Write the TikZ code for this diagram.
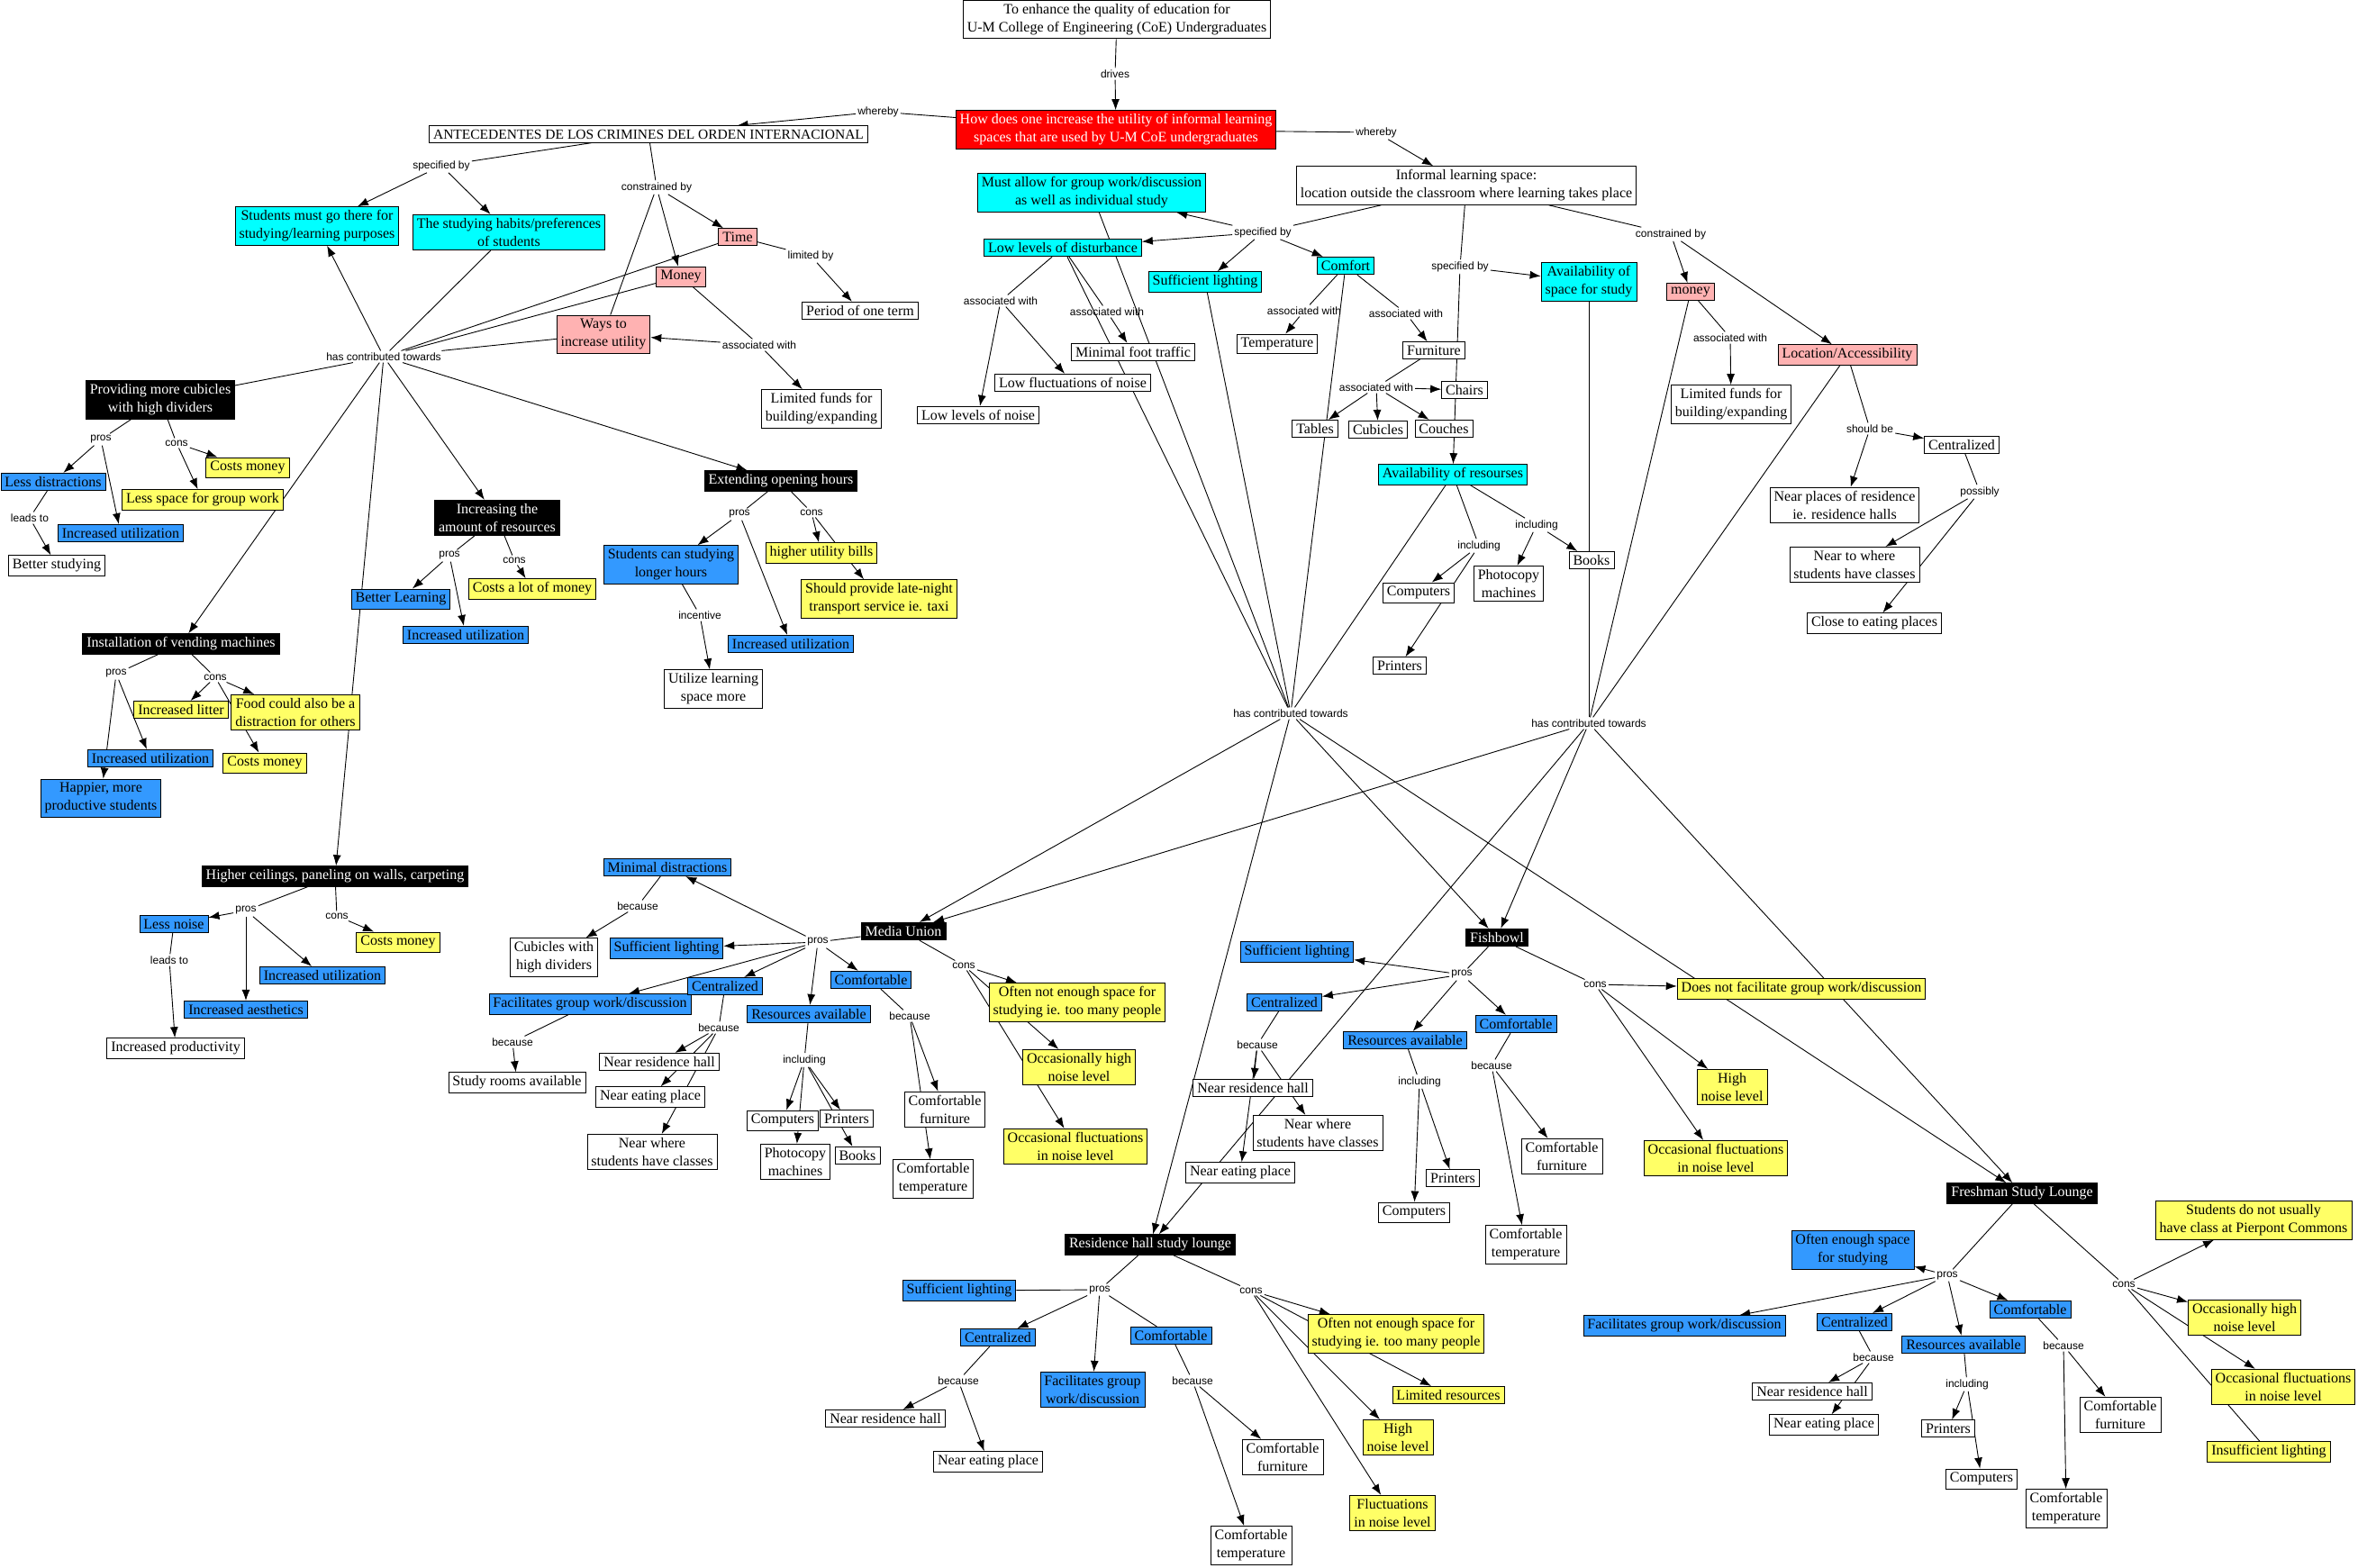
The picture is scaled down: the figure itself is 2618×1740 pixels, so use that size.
\documentclass[tikz,border=0pt]{standalone}
\usepackage{fontspec}
\setmainfont{Liberation Serif}
\newfontfamily\labfont{Liberation Sans}
\usetikzlibrary{arrows.meta}
\pgfdeclarelayer{bg}
\pgfsetlayers{bg,main}
\definecolor{cyanC}{RGB}{0,255,255}
\definecolor{blueC}{RGB}{51,153,255}
\definecolor{yellowC}{RGB}{255,255,102}
\definecolor{pinkC}{RGB}{255,178,178}
\definecolor{redC}{RGB}{255,0,0}
\begin{document}
\begin{tikzpicture}[x=1pt,y=-1pt,
  cbox/.style={draw=black, line width=0.9pt, align=center, font=\fontsize{16}{20}\selectfont, inner xsep=4.5pt, inner ysep=4pt, fill=white},
  cyb/.style={cbox, fill=cyanC},
  blb/.style={cbox, fill=blueC},
  yeb/.style={cbox, fill=yellowC},
  pkb/.style={cbox, fill=pinkC},
  bkb/.style={cbox, fill=black, text=white},
  rdb/.style={cbox, fill=redC, text=white},
  lbl/.style={font=\labfont\fontsize{12}{14}\selectfont, inner sep=2pt},
  lnk/.style={line width=0.9pt},
  arw/.style={line width=0.9pt, -{Latex[length=12pt,width=9pt]}}]
\useasboundingbox (0,0) rectangle (2618,1740);

% ---------- top ----------
\node[cbox] (goal) at (1240,21.5) {To enhance the quality of education for\\U-M College of Engineering (CoE) Undergraduates};
\node[lbl] (drives) at (1238,82) {drives};
\node[rdb] (q) at (1239,144) {How does one increase the utility of informal learning\\spaces that are used by U-M CoE undergraduates};
\node[lbl] (wbL) at (975,124) {whereby};
\node[lbl] (wbR) at (1528,147) {whereby};
\node[cbox, font=\fontsize{15.5}{19}\selectfont] (ante) at (720,149) {ANTECEDENTES DE LOS CRIMINES DEL ORDEN INTERNACIONAL};

% ---------- left ----------
\node[lbl] (spL) at (490,184) {specified by};
\node[cyb] (stMust) at (352,251) {Students must go there for\\studying/learning purposes};
\node[cyb] (stHab) at (565,258) {The studying habits/preferences\\of students};
\node[lbl] (conL) at (729,208) {constrained by};
\node[pkb] (time) at (819,263) {Time};
\node[pkb] (money) at (756,307) {Money};
\node[lbl] (limby) at (900,284) {limited by};
\node[cbox] (period) at (955,345) {Period of one term};
\node[lbl] (assocM) at (843,383) {associated with};
\node[pkb] (ways) at (670,371) {Ways to\\increase utility};
\node[cbox] (fundsL) at (912,454) {Limited funds for\\building/expanding};
\node[lbl] (hubL) at (426,396) {has contributed towards};

\node[bkb] (cub) at (178,444) {Providing more cubicles\\with high dividers};
\node[lbl] (cubPros) at (112,488) {pros};
\node[lbl] (cubCons) at (196,492) {cons};
\node[yeb] (cubCost) at (275,519) {Costs money};
\node[yeb] (cubSpace) at (225,555) {Less space for group work};
\node[blb] (lessDis) at (59,535) {Less distractions};
\node[lbl] (leads1) at (33,575) {leads to};
\node[blb] (cubUtil) at (134,592) {Increased utilization};
\node[cbox] (betterSt) at (63,628) {Better studying};

\node[bkb] (res) at (552,575) {Increasing the\\amount of resources};
\node[lbl] (resPros) at (499,617) {pros};
\node[lbl] (resCons) at (571,622) {cons};
\node[blb] (betterL) at (445,665) {Better Learning};
\node[yeb] (resCost) at (591,654) {Costs a lot of money};
\node[blb] (resUtil) at (517,705) {Increased utilization};

\node[bkb] (ext) at (867,534) {Extending opening hours};
\node[lbl] (extPros) at (821,571) {pros};
\node[lbl] (extCons) at (901,569) {cons};
\node[blb] (longer) at (745,627) {Students can studying\\longer hours};
\node[yeb] (bills) at (912,614) {higher utility bills};
\node[yeb] (taxi) at (976,665) {Should provide late-night\\transport service ie. taxi};
\node[lbl] (incent) at (777,683) {incentive};
\node[blb] (extUtil) at (878,715) {Increased utilization};
\node[cbox] (utilize) at (792,765) {Utilize learning\\space more};

\node[bkb] (vend) at (201,715) {Installation of vending machines};
\node[lbl] (vPros) at (129,748) {pros};
\node[lbl] (vCons) at (239,752) {cons};
\node[yeb] (litter) at (201,788) {Increased litter};
\node[yeb] (food) at (328,791) {Food could also be a\\distraction for others};
\node[blb] (vUtil) at (167,842) {Increased utilization};
\node[yeb] (vCost) at (294,847) {Costs money};
\node[blb] (happy) at (112,886) {Happier, more\\productive students};

\node[bkb] (ceil) at (372,973) {Higher ceilings, paneling on walls, carpeting};
\node[lbl] (cPros) at (273,1011) {pros};
\node[lbl] (cCons) at (374,1017) {cons};
\node[blb] (lessNoise) at (193,1026) {Less noise};
\node[yeb] (cCost) at (442,1046) {Costs money};
\node[blb] (cUtil) at (358,1083) {Increased utilization};
\node[lbl] (leads2) at (188,1066) {leads to};
\node[blb] (aesth) at (273,1121) {Increased aesthetics};
\node[cbox] (prod) at (195,1164) {Increased productivity};

% ---------- right/top ----------
\node[cbox] (inf) at (1628,206) {Informal learning space:\\location outside the classroom where learning takes place};
\node[lbl] (spI) at (1402,258) {specified by};
\node[cyb] (must) at (1212,214) {Must allow for group work/discussion\\as well as individual study};
\node[cyb] (dist) at (1180,275) {Low levels of disturbance};
\node[cyb] (light) at (1338,313) {Sufficient lighting};
\node[cyb] (comfort) at (1494,295) {Comfort};
\node[lbl] (asD1) at (1111,334) {associated with};
\node[lbl] (asD2) at (1229,346) {associated with};
\node[cbox] (foot) at (1258,391) {Minimal foot traffic};
\node[cbox] (lowfl) at (1191,425) {Low fluctuations of noise};
\node[cbox] (lownoise) at (1086,461) {Low levels of noise};
\node[lbl] (asC1) at (1448,345) {associated with};
\node[cbox] (temp) at (1418,382) {Temperature};
\node[lbl] (asC2) at (1561,348) {associated with};
\node[cbox] (furn) at (1592,389) {Furniture};
\node[lbl] (asF) at (1528,430) {associated with};
\node[cbox] (chairs) at (1626,433) {Chairs};
\node[cbox] (tables) at (1460,476) {Tables};
\node[cbox] (cubicles) at (1530,477) {Cubicles};
\node[cbox] (couches) at (1603,476) {Couches};
\node[cyb] (avres) at (1613,527) {Availability of resourses};
\node[lbl] (spM) at (1621,296) {specified by};
\node[cyb] (avsp) at (1764,313) {Availability of\\space for study};
\node[lbl] (conR) at (1855,260) {constrained by};
\node[pkb] (money2) at (1877,324) {money};
\node[lbl] (asM2) at (1921,375) {associated with};
\node[cbox] (fundsR) at (1922,449) {Limited funds for\\building/expanding};
\node[pkb] (loc) at (2051,394) {Location/Accessibility};
\node[lbl] (should) at (2076,476) {should be};
\node[cbox] (centr) at (2178,494) {Centralized};
\node[cbox] (nearres) at (2048,561) {Near places of residence\\ie. residence halls};
\node[lbl] (possibly) at (2198,546) {possibly};
\node[cbox] (nearcls) at (2059,627) {Near to where\\students have classes};
\node[cbox] (closeeat) at (2081,692) {Close to eating places};
\node[lbl] (incl1) at (1642,606) {including};
\node[lbl] (incl2) at (1706,583) {including};
\node[cbox] (photo1) at (1675,648) {Photocopy\\machines};
\node[cbox] (books1) at (1767,622) {Books};
\node[cbox] (comp1) at (1575,658) {Computers};
\node[cbox] (print1) at (1554,739) {Printers};
\node[lbl] (hubM) at (1433,792) {has contributed towards};
\node[lbl] (hubR) at (1764,803) {has contributed towards};

% ---------- Media Union ----------
\node[bkb] (mu) at (1003,1034) {Media Union};
\node[lbl] (muPros) at (908,1046) {pros};
\node[lbl] (muCons) at (1070,1072) {cons};
\node[blb] (muMin) at (741,963) {Minimal distractions};
\node[lbl] (muBec1) at (708,1006) {because};
\node[cbox] (muCub) at (615,1063) {Cubicles with\\high dividers};
\node[blb] (muLight) at (740,1053) {Sufficient lighting};
\node[blb] (muFac) at (655,1115) {Facilitates group work/discussion};
\node[lbl] (muBec2) at (569,1157) {because};
\node[cbox] (muStudy) at (574,1202) {Study rooms available};
\node[blb] (muCen) at (805,1095) {Centralized};
\node[lbl] (muBec3) at (798,1141) {because};
\node[cbox] (muNRH) at (732,1179) {Near residence hall};
\node[cbox] (muNEP) at (722,1218) {Near eating place};
\node[cbox] (muNW) at (724,1279) {Near where\\students have classes};
\node[blb] (muRes) at (898,1126) {Resources available};
\node[lbl] (muIncl) at (893,1177) {including};
\node[cbox] (muComp) at (869,1244) {Computers};
\node[cbox] (muPrint) at (940,1242) {Printers};
\node[cbox] (muPhoto) at (883,1290) {Photocopy\\machines};
\node[cbox] (muBooks) at (952,1283) {Books};
\node[blb] (muCom) at (967,1088) {Comfortable};
\node[lbl] (muBec4) at (1010,1128) {because};
\node[cbox] (muCF) at (1049,1232) {Comfortable\\furniture};
\node[cbox] (muCT) at (1036,1309) {Comfortable\\temperature};
\node[yeb] (muOften) at (1196,1113) {Often not enough space for\\studying ie. too many people};
\node[yeb] (muHigh) at (1198,1185) {Occasionally high\\noise level};
\node[yeb] (muFl) at (1194,1273) {Occasional fluctuations\\in noise level};

% ---------- Fishbowl ----------
\node[bkb] (fb) at (1662,1041) {Fishbowl};
\node[lbl] (fbPros) at (1623,1082) {pros};
\node[lbl] (fbCons) at (1771,1093) {cons};
\node[blb] (fbLight) at (1440,1057) {Sufficient lighting};
\node[blb] (fbCen) at (1426,1113) {Centralized};
\node[blb] (fbRes) at (1560,1155) {Resources available};
\node[blb] (fbCom) at (1683,1137) {Comfortable};
\node[lbl] (fbBec1) at (1396,1160) {because};
\node[cbox] (fbNRH) at (1391,1208) {Near residence hall};
\node[cbox] (fbNW) at (1463,1258) {Near where\\students have classes};
\node[cbox] (fbNEP) at (1377,1302) {Near eating place};
\node[lbl] (fbIncl) at (1576,1201) {including};
\node[cbox] (fbPrint) at (1613,1308) {Printers};
\node[cbox] (fbComp) at (1570,1346) {Computers};
\node[lbl] (fbBec2) at (1656,1183) {because};
\node[cbox] (fbCF) at (1734,1284) {Comfortable\\furniture};
\node[cbox] (fbCT) at (1694,1382) {Comfortable\\temperature};
\node[yeb] (fbNoGroup) at (2000,1098) {Does not facilitate group work/discussion};
\node[yeb] (fbHigh) at (1923,1207) {High\\noise level};
\node[yeb] (fbFl) at (1905,1286) {Occasional fluctuations\\in noise level};

% ---------- Residence hall ----------
\node[bkb] (rh) at (1277,1382) {Residence hall study lounge};
\node[lbl] (rhPros) at (1221,1432) {pros};
\node[lbl] (rhCons) at (1389,1433) {cons};
\node[blb] (rhLight) at (1065,1433) {Sufficient lighting};
\node[blb] (rhCen) at (1108,1485) {Centralized};
\node[blb] (rhFac) at (1213,1543) {Facilitates group\\work/discussion};
\node[blb] (rhCom) at (1300,1483) {Comfortable};
\node[lbl] (rhBec1) at (1064,1533) {because};
\node[cbox] (rhNRH) at (983,1575) {Near residence hall};
\node[cbox] (rhNEP) at (1097,1623) {Near eating place};
\node[lbl] (rhBec2) at (1324,1533) {because};
\node[cbox] (rhCF) at (1424,1618) {Comfortable\\furniture};
\node[cbox] (rhCT) at (1389,1716) {Comfortable\\temperature};
\node[yeb] (rhOften) at (1550,1481) {Often not enough space for\\studying ie. too many people};
\node[yeb] (rhLim) at (1608,1549) {Limited resources};
\node[yeb] (rhHigh) at (1552,1596) {High\\noise level};
\node[yeb] (rhFl) at (1546,1680) {Fluctuations\\in noise level};

% ---------- Freshman Study Lounge ----------
\node[bkb] (fsl) at (2245,1325) {Freshman Study Lounge};
\node[lbl] (fslPros) at (2162,1416) {pros};
\node[lbl] (fslCons) at (2358,1426) {cons};
\node[blb] (fslOften) at (2057,1388) {Often enough space\\for studying};
\node[blb] (fslFac) at (1870,1472) {Facilitates group work/discussion};
\node[blb] (fslCen) at (2059,1468) {Centralized};
\node[blb] (fslRes) at (2180,1493) {Resources available};
\node[blb] (fslCom) at (2254,1454) {Comfortable};
\node[lbl] (fslBec1) at (2080,1507) {because};
\node[cbox] (fslNRH) at (2012,1545) {Near residence hall};
\node[cbox] (fslNEP) at (2025,1582) {Near eating place};
\node[lbl] (fslIncl) at (2184,1537) {including};
\node[cbox] (fslPrint) at (2163,1586) {Printers};
\node[cbox] (fslComp) at (2200,1642) {Computers};
\node[lbl] (fslBec2) at (2291,1494) {because};
\node[cbox] (fslCF) at (2354,1571) {Comfortable\\furniture};
\node[cbox] (fslCT) at (2294,1675) {Comfortable\\temperature};
\node[yeb] (fslNoCls) at (2502,1355) {Students do not usually\\have class at Pierpont Commons};
\node[yeb] (fslHigh) at (2492,1463) {Occasionally high\\noise level};
\node[yeb] (fslFl) at (2535,1540) {Occasional fluctuations\\in noise level};
\node[yeb] (fslInsuf) at (2519,1612) {Insufficient lighting};

\begin{pgfonlayer}{bg}
\fill[white] (0,0) rectangle (2618,1740);
% top
\draw[lnk] (goal) -- (drives); \draw[arw] (drives) -- (q);
\draw[lnk] (q) -- (wbL); \draw[arw] (wbL) -- (ante);
\draw[lnk] (q) -- (wbR); \draw[arw] (wbR) -- (inf);
% antecedentes
\draw[lnk] (ante) -- (spL); \draw[arw] (spL) -- (stMust); \draw[arw] (spL) -- (stHab);
\draw[lnk] (ante) -- (conL); \draw[arw] (conL) -- (time); \draw[arw] (conL) -- (money); \draw[lnk] (conL) -- (ways);
\draw[lnk] (time) -- (limby); \draw[arw] (limby) -- (period);
\draw[lnk] (money) -- (assocM); \draw[arw] (assocM) -- (ways); \draw[arw] (assocM) -- (fundsL);
% left hub
\draw[lnk] (stHab) -- (hubL); \draw[lnk] (time) -- (hubL); \draw[lnk] (money) -- (hubL); \draw[lnk] (ways) -- (hubL);
\draw[arw] (hubL) -- (stMust); \draw[lnk] (hubL) -- (cub); \draw[arw] (hubL) -- (vend);
\draw[arw] (hubL) -- (ceil); \draw[arw] (hubL) -- (res); \draw[arw] (hubL) -- (ext);
% cubicles
\draw[lnk] (cub) -- (cubPros); \draw[arw] (cubPros) -- (lessDis); \draw[arw] (cubPros) -- (cubUtil);
\draw[lnk] (cub) -- (cubCons); \draw[arw] (cubCons) -- (cubCost); \draw[arw] (cubCons) -- (cubSpace);
\draw[lnk] (lessDis) -- (leads1); \draw[arw] (leads1) -- (betterSt);
% resources
\draw[lnk] (res) -- (resPros); \draw[arw] (resPros) -- (betterL); \draw[arw] (resPros) -- (resUtil);
\draw[lnk] (res) -- (resCons); \draw[arw] (resCons) -- (resCost);
% extending
\draw[lnk] (ext) -- (extPros); \draw[arw] (extPros) -- (longer); \draw[arw] (extPros) -- (extUtil);
\draw[lnk] (ext) -- (extCons); \draw[arw] (extCons) -- (bills); \draw[arw] (extCons) -- (taxi);
\draw[lnk] (longer) -- (incent); \draw[arw] (incent) -- (utilize);
% vending
\draw[lnk] (vend) -- (vPros); \draw[arw] (vPros) -- (vUtil); \draw[arw] (vPros) -- (happy);
\draw[lnk] (vend) -- (vCons); \draw[arw] (vCons) -- (litter); \draw[arw] (vCons) -- (food); \draw[arw] (vCons) -- (vCost);
% ceilings
\draw[lnk] (ceil) -- (cPros); \draw[arw] (cPros) -- (lessNoise); \draw[arw] (cPros) -- (aesth); \draw[arw] (cPros) -- (cUtil);
\draw[lnk] (ceil) -- (cCons); \draw[arw] (cCons) -- (cCost);
\draw[lnk] (lessNoise) -- (leads2); \draw[arw] (leads2) -- (prod);
% informal
\draw[lnk] (inf) -- (spI); \draw[arw] (spI) -- (must); \draw[arw] (spI) -- (dist); \draw[arw] (spI) -- (light); \draw[arw] (spI) -- (comfort);
\draw[lnk] (inf) -- (spM); \draw[arw] (spM) -- (avsp); \draw[arw] (spM) -- (avres);
\draw[lnk] (inf) -- (conR); \draw[arw] (conR) -- (money2); \draw[arw] (conR) -- (loc);
\draw[lnk] (money2) -- (asM2); \draw[arw] (asM2) -- (fundsR);
\draw[lnk] (dist) -- (asD1); \draw[arw] (asD1) -- (lownoise); \draw[arw] (asD1) -- (lowfl);
\draw[lnk] (dist) -- (asD2); \draw[arw] (asD2) -- (foot);
\draw[lnk] (comfort) -- (asC1); \draw[arw] (asC1) -- (temp);
\draw[lnk] (comfort) -- (asC2); \draw[arw] (asC2) -- (furn);
\draw[lnk] (furn) -- (asF); \draw[arw] (asF) -- (chairs); \draw[arw] (asF) -- (tables); \draw[arw] (asF) -- (cubicles); \draw[arw] (asF) -- (couches);
\draw[lnk] (avres) -- (incl1); \draw[arw] (incl1) -- (comp1); \draw[arw] (incl1) -- (print1);
\draw[lnk] (avres) -- (incl2); \draw[arw] (incl2) -- (photo1); \draw[arw] (incl2) -- (books1);
\draw[lnk] (loc) -- (should); \draw[arw] (should) -- (centr); \draw[arw] (should) -- (nearres);
\draw[lnk] (centr) -- (possibly); \draw[arw] (possibly) -- (nearcls); \draw[arw] (possibly) -- (closeeat);
% hubs
\draw[lnk] (must) -- (hubM); \draw[lnk] (dist) -- (hubM); \draw[lnk] (light) -- (hubM); \draw[lnk] (comfort) -- (hubM); \draw[lnk] (avres) -- (hubM);
\draw[arw] (hubM) -- (mu); \draw[arw] (hubM) -- (rh); \draw[arw] (hubM) -- (fb); \draw[arw] (hubM) -- (fsl);
\draw[lnk] (avsp) -- (hubR); \draw[lnk] (money2) -- (hubR); \draw[lnk] (loc) -- (hubR);
\draw[arw] (hubR) -- (mu); \draw[arw] (hubR) -- (rh); \draw[arw] (hubR) -- (fb); \draw[arw] (hubR) -- (fsl);
% media union
\draw[lnk] (mu) -- (muPros);
\draw[arw] (muPros) -- (muMin); \draw[arw] (muPros) -- (muLight); \draw[arw] (muPros) -- (muFac);
\draw[arw] (muPros) -- (muCen); \draw[arw] (muPros) -- (muRes); \draw[arw] (muPros) -- (muCom);
\draw[lnk] (muMin) -- (muBec1); \draw[arw] (muBec1) -- (muCub);
\draw[lnk] (muFac) -- (muBec2); \draw[arw] (muBec2) -- (muStudy);
\draw[lnk] (muCen) -- (muBec3); \draw[arw] (muBec3) -- (muNRH); \draw[arw] (muBec3) -- (muNEP); \draw[arw] (muBec3) -- (muNW);
\draw[lnk] (muRes) -- (muIncl); \draw[arw] (muIncl) -- (muComp); \draw[arw] (muIncl) -- (muPrint); \draw[arw] (muIncl) -- (muPhoto); \draw[arw] (muIncl) -- (muBooks);
\draw[lnk] (muCom) -- (muBec4); \draw[arw] (muBec4) -- (muCF); \draw[arw] (muBec4) -- (muCT);
\draw[lnk] (mu) -- (muCons); \draw[arw] (muCons) -- (muOften); \draw[arw] (muCons) -- (muHigh); \draw[arw] (muCons) -- (muFl);
% fishbowl
\draw[lnk] (fb) -- (fbPros);
\draw[arw] (fbPros) -- (fbLight); \draw[arw] (fbPros) -- (fbCen); \draw[arw] (fbPros) -- (fbRes); \draw[arw] (fbPros) -- (fbCom);
\draw[lnk] (fbCen) -- (fbBec1); \draw[arw] (fbBec1) -- (fbNRH); \draw[arw] (fbBec1) -- (fbNW); \draw[arw] (fbBec1) -- (fbNEP);
\draw[lnk] (fbRes) -- (fbIncl); \draw[arw] (fbIncl) -- (fbComp); \draw[arw] (fbIncl) -- (fbPrint);
\draw[lnk] (fbCom) -- (fbBec2); \draw[arw] (fbBec2) -- (fbCF); \draw[arw] (fbBec2) -- (fbCT);
\draw[lnk] (fb) -- (fbCons); \draw[arw] (fbCons) -- (fbNoGroup); \draw[arw] (fbCons) -- (fbHigh); \draw[arw] (fbCons) -- (fbFl);
% residence hall
\draw[lnk] (rh) -- (rhPros); \draw[lnk] (rhLight) -- (rhPros);
\draw[arw] (rhPros) -- (rhCen); \draw[arw] (rhPros) -- (rhFac); \draw[lnk] (rhPros) -- (rhCom);
\draw[lnk] (rhCen) -- (rhBec1); \draw[arw] (rhBec1) -- (rhNRH); \draw[arw] (rhBec1) -- (rhNEP);
\draw[lnk] (rhCom) -- (rhBec2); \draw[arw] (rhBec2) -- (rhCF); \draw[arw] (rhBec2) -- (rhCT);
\draw[lnk] (rh) -- (rhCons); \draw[arw] (rhCons) -- (rhOften); \draw[arw] (rhCons) -- (rhLim); \draw[arw] (rhCons) -- (rhHigh); \draw[arw] (rhCons) -- (rhFl);
% freshman
\draw[lnk] (fsl) -- (fslPros);
\draw[arw] (fslPros) -- (fslOften); \draw[arw] (fslPros) -- (fslFac); \draw[arw] (fslPros) -- (fslCen); \draw[arw] (fslPros) -- (fslRes); \draw[arw] (fslPros) -- (fslCom);
\draw[lnk] (fslCen) -- (fslBec1); \draw[arw] (fslBec1) -- (fslNRH); \draw[arw] (fslBec1) -- (fslNEP);
\draw[lnk] (fslRes) -- (fslIncl); \draw[arw] (fslIncl) -- (fslPrint); \draw[arw] (fslIncl) -- (fslComp);
\draw[lnk] (fslCom) -- (fslBec2); \draw[arw] (fslBec2) -- (fslCF); \draw[arw] (fslBec2) -- (fslCT);
\draw[lnk] (fsl) -- (fslCons); \draw[arw] (fslCons) -- (fslNoCls); \draw[arw] (fslCons) -- (fslHigh); \draw[arw] (fslCons) -- (fslFl); \draw[lnk] (fslCons) -- (fslInsuf);
\end{pgfonlayer}
\end{tikzpicture}
\end{document}
